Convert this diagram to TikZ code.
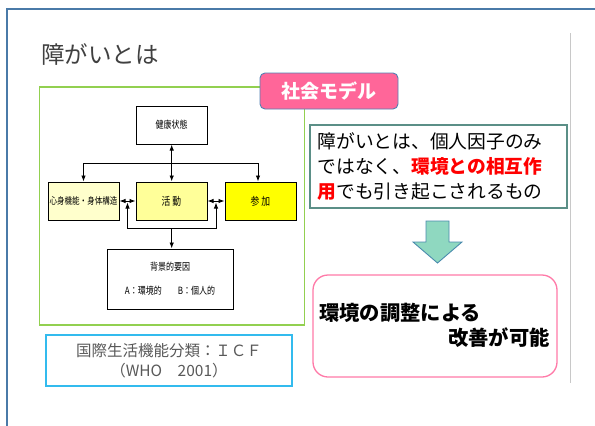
\documentclass[tikz,border=0pt]{standalone}
\usepackage{fontspec}
\setmainfont{Noto Sans CJK JP}
\usetikzlibrary{arrows.meta}
\definecolor{frameblue}{RGB}{74,122,168}
\definecolor{sepgray}{RGB}{200,200,200}
\definecolor{titlegray}{RGB}{64,64,64}
\definecolor{icfgreen}{RGB}{146,208,80}
\definecolor{labelpink}{RGB}{255,102,153}
\definecolor{labelborder}{RGB}{80,130,180}
\definecolor{tealborder}{RGB}{91,143,135}
\definecolor{jred}{RGB}{255,0,0}
\definecolor{arrowfill}{RGB}{143,216,192}
\definecolor{arrowborder}{RGB}{74,139,173}
\definecolor{boxpink}{RGB}{255,122,168}
\definecolor{icfblue}{RGB}{51,187,238}
\definecolor{notegray}{RGB}{89,89,89}
\definecolor{ylight}{RGB}{255,255,204}
\definecolor{ymid}{RGB}{255,255,153}
\definecolor{yfull}{RGB}{255,255,0}
\newcommand{\cond}[1]{\scalebox{0.8}[1]{#1}}
\tikzset{
  icfbox/.style={draw=black, line width=1pt, minimum width=71pt, minimum height=38pt, inner sep=0pt},
  icfline/.style={line width=0.9pt, black},
  tipa/.style={-{Latex[length=6pt,width=4.5pt]}},
  tipb/.style={{Latex[length=6pt,width=4.5pt]}-{Latex[length=6pt,width=4.5pt]}},
  smalltxt/.style={font=\fontsize{10}{12}\selectfont}
}
\begin{document}
\begin{tikzpicture}[x=1pt,y=-1pt]
\useasboundingbox (0,0) rectangle (595,426);
\fill[white] (0,0) rectangle (595,426);
% slide frame
\draw[frameblue, line width=2pt] (7,426) -- (7,9) -- (595,9);
\draw[sepgray, line width=0.8pt] (570.5,33) -- (570.5,383);
% title
\node[anchor=west, inner sep=0pt, text=titlegray, font=\fontsize{23.5}{26}\selectfont] (title) at (41,54) {障がいとは};
% green frame
\node[draw=icfgreen, line width=1.8pt, minimum width=265pt, minimum height=238pt, inner sep=0pt] (gframe) at (172,206) {};
% ICF model boxes
\node[icfbox, fill=white, smalltxt] (h) at (171.5,125) {\cond{健康状態}};
\node[icfbox, fill=ylight, font=\fontsize{9.4}{11}\selectfont] (b) at (83.5,201) {\cond{心身機能・身体構造}};
\node[icfbox, fill=ymid, font=\fontsize{11}{13}\selectfont] (a) at (171.5,201) {\cond{活 動}};
\node[icfbox, fill=yfull, font=\fontsize{11}{13}\selectfont] (p) at (260.5,201) {\cond{参 加}};
\node[draw=black, line width=1pt, fill=white, minimum width=126pt, minimum height=60pt, inner sep=0pt, align=center, font=\fontsize{10}{24}\selectfont] (e) at (170,279) {\cond{背景的要因}\\\cond{A：環境的　　B：個人的}};
% ICF connectors
\coordinate (jl) at (83.5,163);
\coordinate (jr) at (258,163);
\coordinate (jm) at (171.7,163);
\draw[icfline] (jl) -- (jr);
\draw[icfline, tipa] (jl) -- (b.north);
\draw[icfline, tipa] (jr) -- (jr |- p.north);
\draw[icfline, tipb] (jm |- h.south) -- (jm |- a.north);
\draw[icfline, tipb] (b.east) -- (a.west);
\draw[icfline, tipb] (a.east) -- (p.west);
\coordinate (u1) at (127.5,202.5);
\coordinate (d1) at (127.5,228);
\coordinate (d2) at (216,228);
\coordinate (u2) at (216,202.5);
\coordinate (dm) at (171.7,228);
\draw[icfline, tipb] (u1) -- (d1) -- (d2) -- (u2);
\draw[icfline, tipa] (dm) -- (dm |- e.north);
% social model label
\node[draw=labelborder, line width=0.9pt, fill=labelpink, rounded corners=5pt, minimum width=138pt, minimum height=36pt, inner sep=0pt, text=white, font=\fontsize{19}{22}\selectfont\bfseries] (lab) at (329,91) {社会モデル};
% explanation box
\node[draw=tealborder, line width=1.3pt, fill=white, minimum width=257pt, minimum height=83pt, inner sep=0pt] (tb) at (438.5,166.5) {};
\node[anchor=west, inner sep=0pt, align=left, font=\fontsize{18.75}{25}\selectfont] (tbt) at ([xshift=8pt]tb.west) {障がいとは、個人因子のみ\\ではなく、\textcolor{jred}{\bfseries 環境との相互作}\\\textcolor{jred}{\bfseries 用}でも引き起こされるもの};
% block arrow
\draw[arrowborder, line width=0.9pt, fill=arrowfill, line join=miter]
  (426,221) -- (449,221) -- (449,242) -- (462,242) -- (437.5,263) -- (413,242) -- (426,242) -- cycle;
% result box
\node[draw=boxpink, line width=1.3pt, fill=white, rounded corners=15pt, minimum width=244pt, minimum height=102pt, inner sep=0pt] (rb) at (435,326) {};
\node[anchor=west, inner sep=0pt, font=\fontsize{20.3}{24}\selectfont\bfseries] (rb1) at (319,313) {環境の調整による};
\node[anchor=east, inner sep=0pt, font=\fontsize{20.3}{24}\selectfont\bfseries] (rb2) at (550,338) {改善が可能};
% ICF caption
\node[draw=icfblue, line width=1.2pt, minimum width=246pt, minimum height=51pt, inner sep=0pt, align=center, text=notegray, font=\fontsize{15.5}{20}\selectfont] (cap) at (169,360.5) {国際生活機能分類：ＩＣＦ\\（WHO　2001）};
\end{tikzpicture}
\end{document}
